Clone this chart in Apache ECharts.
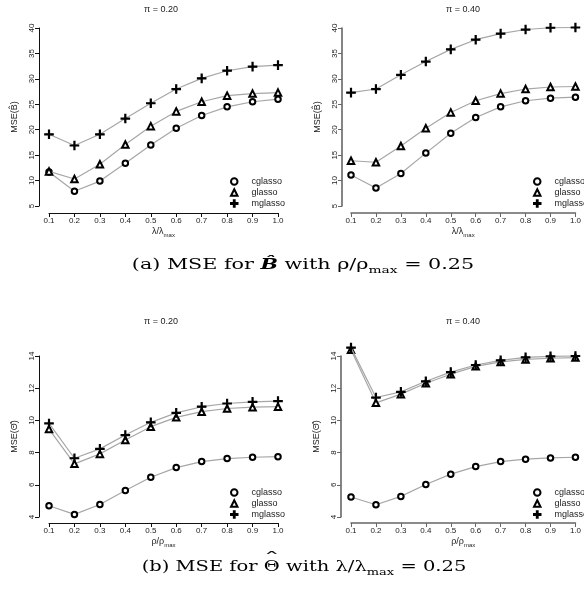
<!DOCTYPE html>
<html>
<head>
<meta charset="utf-8">
<script src="https://cdn.jsdelivr.net/npm/echarts@6/dist/echarts.min.js"></script>
<style>
html,body{margin:0;padding:0;background:#fff;}
#c{width:584px;height:596px;}
</style>
</head>
<body>
<div id="c"></div>
<script>
// ---- data ----
const xTicks = ['0.1','0.2','0.3','0.4','0.5','0.6','0.7','0.8','0.9','1.0'];
const seriesNames = ['cglasso','glasso','mglasso'];
const panelTitles = ['\u03c0 = 0.20','\u03c0 = 0.40','\u03c0 = 0.20','\u03c0 = 0.40'];

// (a) MSE for B, pi = 0.20
const bPi20_cglasso = [11.7, 7.9, 9.9, 13.4, 17.0, 20.3, 22.8, 24.5, 25.5, 26.0];
const bPi20_glasso  = [11.8, 10.3, 13.2, 17.1, 20.7, 23.6, 25.5, 26.7, 27.1, 27.3];
const bPi20_mglasso = [19.1, 16.9, 19.1, 22.2, 25.2, 28.0, 30.1, 31.6, 32.4, 32.7];
// (a) MSE for B, pi = 0.40
const bPi40_cglasso = [11.1, 8.55, 11.4, 15.4, 19.3, 22.4, 24.5, 25.7, 26.2, 26.4];
const bPi40_glasso  = [13.9, 13.6, 16.8, 20.3, 23.4, 25.7, 27.1, 28.0, 28.4, 28.5];
const bPi40_mglasso = [27.3, 28.0, 30.8, 33.4, 35.8, 37.7, 38.9, 39.7, 40.05, 40.1];
// (b) MSE for Theta, pi = 0.20
const tPi20_cglasso = [4.70, 4.16, 4.78, 5.65, 6.47, 7.07, 7.44, 7.63, 7.71, 7.75];
const tPi20_glasso  = [9.46, 7.30, 7.92, 8.78, 9.61, 10.19, 10.54, 10.74, 10.82, 10.85];
const tPi20_mglasso = [9.81, 7.65, 8.23, 9.09, 9.88, 10.47, 10.85, 11.05, 11.15, 11.2];
// (b) MSE for Theta, pi = 0.40
const tPi40_cglasso = [5.24, 4.76, 5.28, 6.02, 6.66, 7.13, 7.44, 7.59, 7.67, 7.71];
const tPi40_glasso  = [14.39, 11.09, 11.63, 12.31, 12.87, 13.36, 13.63, 13.79, 13.86, 13.90];
const tPi40_mglasso = [14.52, 11.42, 11.77, 12.43, 13.0, 13.44, 13.73, 13.92, 13.98, 14.0];

const panelData = [
  [bPi20_cglasso, bPi20_glasso, bPi20_mglasso],
  [bPi40_cglasso, bPi40_glasso, bPi40_mglasso],
  [tPi20_cglasso, tPi20_glasso, tPi20_mglasso],
  [tPi40_cglasso, tPi40_glasso, tPi40_mglasso]
];

// ---- layout / style ----
const FONT = 'Liberation Sans';
const PLUS = 'path://M4.35,0H5.65V4.35H10V5.65H5.65V10H4.35V5.65H0V4.35H4.35Z';
const symbols = ['emptyCircle','emptyTriangle',PLUS];
const symSizes = [5.5, 6.5, 8.5];
const grids = [
  {left:49, top:28, width:229, height:178},
  {left:351, top:28, width:229, height:178},
  {left:49, top:356, width:229, height:161},
  {left:351, top:356, width:229, height:161}
];
const yRanges = [[5,40,5],[5,40,5],[4,14,2],[4,14,2]];
const yNames = ['MSE(B\u0302)','MSE(B\u0302)','MSE(\u0398\u0302)','MSE(\u0398\u0302)'];
const xNames = [['\u03bb/\u03bb','max'],['\u03bb/\u03bb','max'],['\u03c1/\u03c1','max'],['\u03c1/\u03c1','max']];
const yOffsets = [10, 9, 10, 10];
const xOffsets = [7, 7, 6, 6];
const axisCol = ['#111','#666','#111','#666'];
const axisW = [1, 1.6, 1, 1.6];
const legendLeft = [230, 533, 230, 533];
const legendTop = [177, 177, 488, 488];

const xAxis = [], yAxis = [], series = [], legend = [], graphic = [];
grids.forEach((g, i) => {
  xAxis.push({
    gridIndex: i, type: 'category', data: xTicks, boundaryGap: false,
    offset: xOffsets[i],
    axisLine: {lineStyle: {color: axisCol[i], width: axisW[i]}},
    axisTick: {length: 4, lineStyle: {color: axisCol[i]}},
    axisLabel: {fontFamily: FONT, fontSize: 8, color: '#222', margin: 4},
    splitLine: {show: false},
    name: '{a|' + xNames[i][0] + '}{s|' + xNames[i][1] + '}',
    nameLocation: 'middle', nameGap: 14,
    nameTextStyle: {
      rich: {
        a: {fontFamily: FONT, fontSize: 9, color: '#222', verticalAlign: 'bottom'},
        s: {fontFamily: FONT, fontSize: 6, color: '#222', verticalAlign: 'bottom', padding: [0,0,-2,0]}
      }
    }
  });
  yAxis.push({
    gridIndex: i, type: 'value', min: yRanges[i][0], max: yRanges[i][1], interval: yRanges[i][2],
    offset: yOffsets[i],
    axisLine: {show: true, lineStyle: {color: axisCol[i], width: axisW[i]}},
    axisTick: {show: true, length: 4, lineStyle: {color: axisCol[i]}},
    axisLabel: {fontFamily: FONT, fontSize: 8, color: '#222', rotate: 90, margin: 3},
    splitLine: {show: false},
    name: yNames[i], nameLocation: 'middle', nameGap: 20, nameRotate: 90,
    nameTextStyle: {fontFamily: FONT, fontSize: 9, color: '#222'}
  });
  panelData[i].forEach((vals, k) => {
    series.push({
      name: seriesNames[k], type: 'line', xAxisIndex: i, yAxisIndex: i,
      data: vals, symbol: symbols[k], symbolSize: symSizes[k], clip: false,
      lineStyle: {color: '#a6a6a6', width: 1.2},
      itemStyle: {color: '#000', borderColor: '#000', borderWidth: 1.1},
      emphasis: {disabled: true}, animation: false, z: 2 + k
    });
  });
  legend.push({
    orient: 'vertical', left: legendLeft[i], top: legendTop[i], padding: 0,
    itemWidth: 6.5, itemHeight: 6.5, itemGap: 2,
    data: seriesNames.map((n, k) => ({name: n, icon: symbols[k]})),
    textStyle: {fontFamily: FONT, fontSize: 9, lineHeight: 9, color: '#222', padding: [0,0,0,9]},
    selectedMode: false
  });
  graphic.push({
    type: 'text', x: g.left + 112, y: (i < 2 ? 10 : 322),
    style: {text: panelTitles[i], font: '9px "Liberation Sans"', fill: '#222',
            textAlign: 'center', textVerticalAlign: 'middle'}
  });
});

// captions
const CAP = 15, SUB = 10;
const capRich = {
  t: {fontFamily: 'DejaVu Serif', fontSize: CAP, color: '#111'},
  b: {fontFamily: 'DejaVu Serif', fontSize: CAP, fontWeight: 'bold', fontStyle: 'italic', color: '#111'},
  s: {fontFamily: 'DejaVu Serif', fontSize: SUB, color: '#111', verticalAlign: 'bottom', padding: [0,0,-3,0]}
};
const capA = ['(a) MSE for ', 'B\u0302', ' with \u03c1/\u03c1', 'max', ' = 0.25'];
const capB = ['(b) MSE for ', '\u0398', ' with \u03bb/\u03bb', 'max', ' = 0.25'];
const scaleA = 1.38, scaleB = 1.3, cxA = 303, cxB = 304, cyA = 265, cyB = 567;
graphic.push({
  type: 'text', x: cxA, y: cyA, scaleX: scaleA,
  style: {text: '{t|' + capA[0] + '}{b|' + capA[1] + '}{t|' + capA[2] + '}{s|' + capA[3] + '}{t|' + capA[4] + '}',
          rich: capRich, textAlign: 'center', textVerticalAlign: 'middle'}
});
graphic.push({
  type: 'text', x: cxB, y: cyB, scaleX: scaleB,
  style: {text: '{t|' + capB[0] + '}{t|' + capB[1] + '}{t|' + capB[2] + '}{s|' + capB[3] + '}{t|' + capB[4] + '}',
          rich: capRich, textAlign: 'center', textVerticalAlign: 'middle'}
});
// wide hat over Theta in caption (b)
(function () {
  const ctx = document.createElement('canvas').getContext('2d');
  const m = (s, px) => { ctx.font = px + 'px "DejaVu Serif"'; return ctx.measureText(s).width; };
  const w0 = m(capB[0], CAP), w1 = m(capB[1], CAP), w2 = m(capB[2], CAP), w3 = m(capB[3], SUB), w4 = m(capB[4], CAP);
  const W = w0 + w1 + w2 + w3 + w4;
  const thetaCx = cxB - scaleB * W / 2 + scaleB * (w0 + w1 / 2);
  graphic.push({
    type: 'text', x: thetaCx, y: cyB - 8, scaleX: 2.2,
    style: {text: '\u02c6', font: CAP + 'px "DejaVu Serif"', fill: '#111',
            textAlign: 'center', textVerticalAlign: 'middle'}
  });
})();

const chart = echarts.init(document.getElementById('c'), null, {renderer: 'canvas'});
chart.setOption({
  animation: false,
  backgroundColor: '#fff',
  grid: grids, xAxis, yAxis, series, legend, graphic
});
</script>
</body>
</html>
